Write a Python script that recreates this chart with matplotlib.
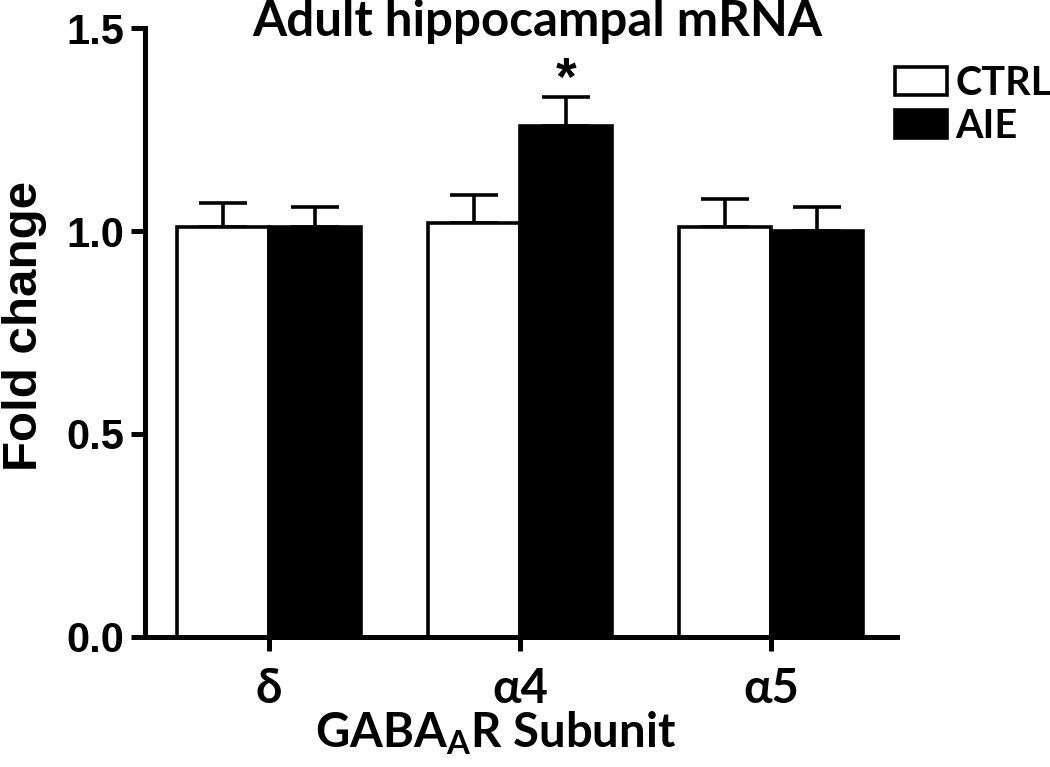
import matplotlib.pyplot as plt
import numpy as np

subunits = ['δ', 'α4', 'α5']
ctrl_mean = [1.01, 1.02, 1.01]
ctrl_sem = [0.06, 0.07, 0.07]
aie_mean = [1.01, 1.26, 1.00]
aie_sem = [0.05, 0.07, 0.06]

label_font = ['Lato', 'DejaVu Sans']
tick_font = ['Liberation Sans', 'DejaVu Sans']

fig = plt.figure(figsize=(10.5, 7.67), dpi=100)
ax = fig.add_axes([0.138, 0.170, 0.716, 0.793])

x = np.arange(len(subunits))
w = 0.366
lw = 2.6

ax.bar(x - w / 2, ctrl_mean, w, color='white', edgecolor='black', linewidth=lw, zorder=2)
ax.bar(x + w / 2, aie_mean, w, color='black', edgecolor='black', linewidth=lw, zorder=2)
ax.errorbar(x - w / 2, ctrl_mean, yerr=[np.zeros(3), ctrl_sem], fmt='none',
            ecolor='black', elinewidth=lw, capsize=17, capthick=lw, zorder=1)
ax.errorbar(x + w / 2, aie_mean, yerr=[np.zeros(3), aie_sem], fmt='none',
            ecolor='black', elinewidth=lw, capsize=17, capthick=lw, zorder=1)

# significance
ax.text(x[1] + w / 2, aie_mean[1] + aie_sem[1] + 0.04, '*', ha='center', va='center',
        fontsize=38, fontweight='bold', family=tick_font)

ax.set_xlim(-0.495, 2.5)
ax.set_ylim(0, 1.5)
ax.set_yticks([0.0, 0.5, 1.0, 1.5])
ax.set_yticklabels(['0.0', '0.5', '1.0', '1.5'], fontsize=30, fontweight='bold', family=tick_font)
ax.set_xticks(x)
ax.set_xticklabels(subunits, fontsize=34, fontweight='bold', family=label_font)

for s in ['top', 'right']:
    ax.spines[s].set_visible(False)
for s in ['left', 'bottom']:
    ax.spines[s].set_linewidth(3.6)
ax.tick_params(axis='both', direction='out', width=3.6, length=10, color='black')
ax.tick_params(axis='y', pad=5)
ax.tick_params(axis='x', pad=12)

ax.set_ylabel('Fold change', fontsize=35.5, fontweight='bold', family=tick_font)
ax.yaxis.set_label_coords(-0.13, 0.51)
ax.set_xlabel('GABA$_\\mathregular{A}$R Subunit', fontsize=34, fontweight='bold',
              family=label_font)
ax.xaxis.set_label_coords(0.467, -0.12)
fig.text(0.512, 0.972, 'Adult hippocampal mRNA', ha='center', va='center',
         fontsize=35.5, fontweight='bold', family=label_font)

leg = fig.legend(['CTRL', 'AIE'], loc='upper left', bbox_to_anchor=(0.852, 0.915), frameon=False,
                 prop={'family': label_font, 'weight': 'bold', 'size': 28.5},
                 handlelength=1.33, handleheight=0.72, handletextpad=0.2, labelspacing=0.14,
                 borderaxespad=0, borderpad=0)

fig.savefig('out.png', dpi=100)
